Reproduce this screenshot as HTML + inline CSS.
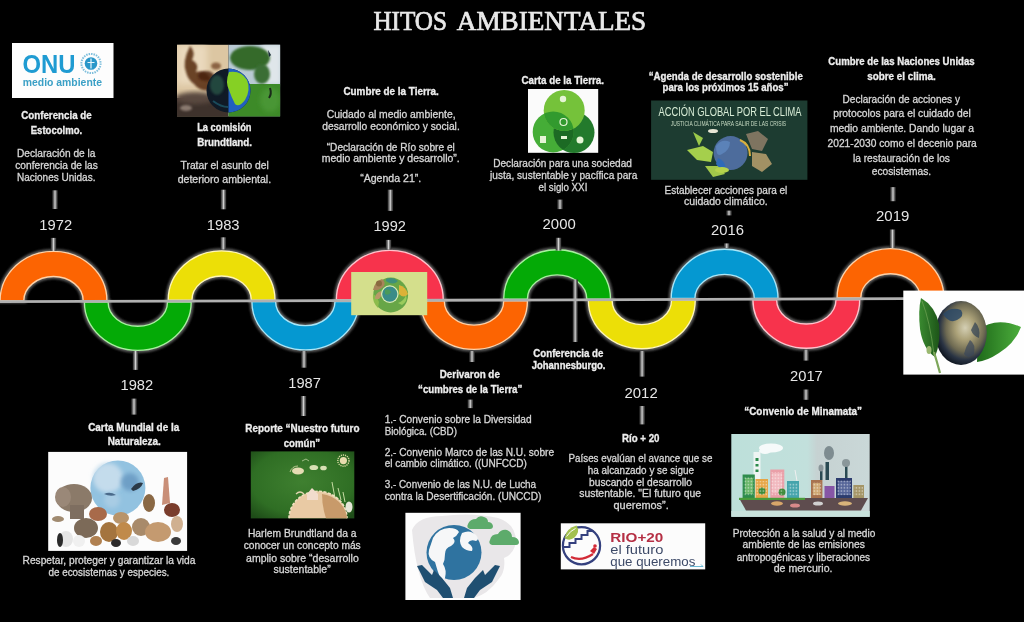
<!DOCTYPE html><html><head><meta charset="utf-8"><title>Hitos ambientales</title>
<style>html,body{margin:0;padding:0;background:#000;}body{width:1024px;height:622px;overflow:hidden;}svg{display:block;font-family:"Liberation Sans",sans-serif;filter:blur(0.5px);}</style></head><body>
<svg width="1024" height="622" viewBox="0 0 1024 622">
<defs><linearGradient id="stem" x1="0" x2="1" y1="0" y2="0"><stop offset="0" stop-color="#222"/><stop offset="0.3" stop-color="#777"/><stop offset="0.5" stop-color="#d2d2d2"/><stop offset="0.7" stop-color="#777"/><stop offset="1" stop-color="#222"/></linearGradient><filter id="glow" x="-20%" y="-20%" width="140%" height="140%"><feGaussianBlur stdDeviation="1.3"/></filter><filter id="b1" x="-20%" y="-20%" width="140%" height="140%"><feGaussianBlur stdDeviation="1"/></filter><filter id="b2" x="-20%" y="-20%" width="140%" height="140%"><feGaussianBlur stdDeviation="2"/></filter><filter id="b3" x="-30%" y="-30%" width="160%" height="160%"><feGaussianBlur stdDeviation="3"/></filter></defs>
<rect width="1024" height="622" fill="#000"/>
<g font-family="Liberation Serif" font-size="26.5" fill="#e9e9e9" stroke="#e9e9e9" stroke-width="0.7"><text x="373.4" y="29.6" textLength="73.6" lengthAdjust="spacingAndGlyphs">HITOS</text><text x="456.8" y="29.6" textLength="189.4" lengthAdjust="spacingAndGlyphs">AMBIENTALES</text></g>
<path d="M0.10,300.72 A53.4,49.3 0 0 1 106.90,300.72 L83.20,300.72 A29.7,24.2 0 0 0 23.80,300.72 Z" fill="none" stroke="#5a5a5a" stroke-width="5" filter="url(#glow)"/>
<path d="M84.40,302.05 A53.4,48.4 0 0 0 191.20,302.05 L167.50,302.05 A29.7,24.2 0 0 1 108.10,302.05 Z" fill="none" stroke="#5a5a5a" stroke-width="5" filter="url(#glow)"/>
<path d="M168.20,300.17 A53.4,49.3 0 0 1 275.00,300.17 L251.30,300.17 A29.7,24.2 0 0 0 191.90,300.17 Z" fill="none" stroke="#5a5a5a" stroke-width="5" filter="url(#glow)"/>
<path d="M251.90,301.49 A53.4,48.4 0 0 0 358.70,301.49 L335.00,301.49 A29.7,24.2 0 0 1 275.60,301.49 Z" fill="none" stroke="#5a5a5a" stroke-width="5" filter="url(#glow)"/>
<path d="M336.40,299.61 A53.4,49.3 0 0 1 443.20,299.61 L419.50,299.61 A29.7,24.2 0 0 0 360.10,299.61 Z" fill="none" stroke="#5a5a5a" stroke-width="5" filter="url(#glow)"/>
<path d="M420.60,300.94 A53.4,48.4 0 0 0 527.40,300.94 L503.70,300.94 A29.7,24.2 0 0 1 444.30,300.94 Z" fill="none" stroke="#5a5a5a" stroke-width="5" filter="url(#glow)"/>
<path d="M503.70,299.06 A53.4,49.3 0 0 1 610.50,299.06 L586.80,299.06 A29.7,24.2 0 0 0 527.40,299.06 Z" fill="none" stroke="#5a5a5a" stroke-width="5" filter="url(#glow)"/>
<path d="M588.40,300.38 A53.4,48.4 0 0 0 695.20,300.38 L671.50,300.38 A29.7,24.2 0 0 1 612.10,300.38 Z" fill="none" stroke="#5a5a5a" stroke-width="5" filter="url(#glow)"/>
<path d="M671.20,298.51 A53.4,49.3 0 0 1 778.00,298.51 L754.30,298.51 A29.7,24.2 0 0 0 694.90,298.51 Z" fill="none" stroke="#5a5a5a" stroke-width="5" filter="url(#glow)"/>
<path d="M752.90,299.84 A53.4,48.4 0 0 0 859.70,299.84 L836.00,299.84 A29.7,24.2 0 0 1 776.60,299.84 Z" fill="none" stroke="#5a5a5a" stroke-width="5" filter="url(#glow)"/>
<path d="M837.10,297.96 A53.4,49.3 0 0 1 943.90,297.96 L920.20,297.96 A29.7,24.2 0 0 0 860.80,297.96 Z" fill="none" stroke="#5a5a5a" stroke-width="5" filter="url(#glow)"/>
<path d="M0.10,300.72 A53.4,49.3 0 0 1 106.90,300.72 L83.20,300.72 A29.7,24.2 0 0 0 23.80,300.72 Z" fill="#fc6402" stroke="#ffd2a8" stroke-width="1.35"/>
<path d="M84.40,302.05 A53.4,48.4 0 0 0 191.20,302.05 L167.50,302.05 A29.7,24.2 0 0 1 108.10,302.05 Z" fill="#04aa06" stroke="#a8f0a0" stroke-width="1.35"/>
<path d="M168.20,300.17 A53.4,49.3 0 0 1 275.00,300.17 L251.30,300.17 A29.7,24.2 0 0 0 191.90,300.17 Z" fill="#ecdf07" stroke="#fff6b8" stroke-width="1.35"/>
<path d="M251.90,301.49 A53.4,48.4 0 0 0 358.70,301.49 L335.00,301.49 A29.7,24.2 0 0 1 275.60,301.49 Z" fill="#0598d1" stroke="#a8e6f8" stroke-width="1.35"/>
<path d="M336.40,299.61 A53.4,49.3 0 0 1 443.20,299.61 L419.50,299.61 A29.7,24.2 0 0 0 360.10,299.61 Z" fill="#f7334c" stroke="#ffc2cc" stroke-width="1.35"/>
<path d="M420.60,300.94 A53.4,48.4 0 0 0 527.40,300.94 L503.70,300.94 A29.7,24.2 0 0 1 444.30,300.94 Z" fill="#fc6402" stroke="#ffd2a8" stroke-width="1.35"/>
<path d="M503.70,299.06 A53.4,49.3 0 0 1 610.50,299.06 L586.80,299.06 A29.7,24.2 0 0 0 527.40,299.06 Z" fill="#04aa06" stroke="#a8f0a0" stroke-width="1.35"/>
<path d="M588.40,300.38 A53.4,48.4 0 0 0 695.20,300.38 L671.50,300.38 A29.7,24.2 0 0 1 612.10,300.38 Z" fill="#ecdf07" stroke="#fff6b8" stroke-width="1.35"/>
<path d="M671.20,298.51 A53.4,49.3 0 0 1 778.00,298.51 L754.30,298.51 A29.7,24.2 0 0 0 694.90,298.51 Z" fill="#0598d1" stroke="#a8e6f8" stroke-width="1.35"/>
<path d="M752.90,299.84 A53.4,48.4 0 0 0 859.70,299.84 L836.00,299.84 A29.7,24.2 0 0 1 776.60,299.84 Z" fill="#f7334c" stroke="#ffc2cc" stroke-width="1.35"/>
<path d="M837.10,297.96 A53.4,49.3 0 0 1 943.90,297.96 L920.20,297.96 A29.7,24.2 0 0 0 860.80,297.96 Z" fill="#fc6402" stroke="#ffd2a8" stroke-width="1.35"/>
<rect x="52.2" y="190.3" width="5.6" height="18.7" fill="url(#stem)"/>
<rect x="50.7" y="237.9" width="5.6" height="13.1" fill="url(#stem)"/>
<rect x="220.7" y="189.7" width="5.6" height="19.6" fill="url(#stem)"/>
<rect x="220.5" y="237.3" width="5.6" height="12.2" fill="url(#stem)"/>
<rect x="387.5" y="189.7" width="5.6" height="21.2" fill="url(#stem)"/>
<rect x="385.7" y="239.9" width="5.6" height="9.6" fill="url(#stem)"/>
<rect x="557.2" y="199.6" width="5.6" height="9.5" fill="url(#stem)"/>
<rect x="555.7" y="237.8" width="5.6" height="12.7" fill="url(#stem)"/>
<rect x="726.2" y="210.6" width="5.6" height="4.8" fill="url(#stem)"/>
<rect x="723.9" y="243.4" width="5.6" height="4.6" fill="url(#stem)"/>
<rect x="890.2" y="187.1" width="5.6" height="14.1" fill="url(#stem)"/>
<rect x="889.7" y="229.5" width="5.6" height="18.5" fill="url(#stem)"/>
<rect x="132.7" y="351.0" width="5.6" height="18.9" fill="url(#stem)"/>
<rect x="131.2" y="398.6" width="5.6" height="16.0" fill="url(#stem)"/>
<rect x="301.2" y="351.0" width="5.6" height="16.7" fill="url(#stem)"/>
<rect x="300.7" y="396.0" width="5.6" height="20.0" fill="url(#stem)"/>
<rect x="469.2" y="351.0" width="5.6" height="11.0" fill="url(#stem)"/>
<rect x="467.5" y="399.6" width="5.6" height="8.5" fill="url(#stem)"/>
<rect x="639.3" y="351.0" width="5.6" height="25.6" fill="url(#stem)"/>
<rect x="639.3" y="406.0" width="5.6" height="18.4" fill="url(#stem)"/>
<rect x="803.2" y="349.7" width="5.6" height="10.9" fill="url(#stem)"/>
<rect x="803.2" y="389.5" width="5.6" height="10.3" fill="url(#stem)"/>
<rect x="572.6" y="279.5" width="5.2" height="62.5" fill="url(#stem)"/>
<polygon points="0,300.30 904,297.32 904,300.12 0,303.10" fill="#b0b0b0"/>
<text x="21.15" y="119.30" font-size="10.0" font-weight="bold" fill="#ededed" stroke="#ededed" stroke-width="0.3" textLength="70.60" lengthAdjust="spacingAndGlyphs">Conferencia de</text>
<text x="30.75" y="134.00" font-size="10.0" font-weight="bold" fill="#ededed" stroke="#ededed" stroke-width="0.3" textLength="51.40" lengthAdjust="spacingAndGlyphs">Estocolmo.</text>
<text x="17.05" y="156.60" font-size="10.1" font-weight="normal" fill="#d6d6d6" stroke="#d6d6d6" stroke-width="0.3" textLength="78.40" lengthAdjust="spacingAndGlyphs">Declaración de la</text>
<text x="15.25" y="168.50" font-size="10.1" font-weight="normal" fill="#d6d6d6" stroke="#d6d6d6" stroke-width="0.3" textLength="82.60" lengthAdjust="spacingAndGlyphs">conferencia de las</text>
<text x="17.05" y="180.80" font-size="10.1" font-weight="normal" fill="#d6d6d6" stroke="#d6d6d6" stroke-width="0.3" textLength="78.40" lengthAdjust="spacingAndGlyphs">Naciones Unidas.</text>
<text x="197.15" y="131.30" font-size="10.0" font-weight="bold" fill="#ededed" stroke="#ededed" stroke-width="0.3" textLength="54.40" lengthAdjust="spacingAndGlyphs">La comisión</text>
<text x="197.15" y="145.80" font-size="10.0" font-weight="bold" fill="#ededed" stroke="#ededed" stroke-width="0.3" textLength="54.90" lengthAdjust="spacingAndGlyphs">Brundtland.</text>
<text x="180.55" y="169.00" font-size="10.1" font-weight="normal" fill="#d6d6d6" stroke="#d6d6d6" stroke-width="0.3" textLength="88.30" lengthAdjust="spacingAndGlyphs">Tratar el asunto del</text>
<text x="177.65" y="183.40" font-size="10.1" font-weight="normal" fill="#d6d6d6" stroke="#d6d6d6" stroke-width="0.3" textLength="93.50" lengthAdjust="spacingAndGlyphs">deterioro ambiental.</text>
<text x="343.45" y="95.40" font-size="10.0" font-weight="bold" fill="#ededed" stroke="#ededed" stroke-width="0.3" textLength="95.40" lengthAdjust="spacingAndGlyphs">Cumbre de la Tierra.</text>
<text x="326.75" y="118.00" font-size="10.1" font-weight="normal" fill="#d6d6d6" stroke="#d6d6d6" stroke-width="0.3" textLength="128.80" lengthAdjust="spacingAndGlyphs">Cuidado al medio ambiente,</text>
<text x="322.25" y="129.70" font-size="10.1" font-weight="normal" fill="#d6d6d6" stroke="#d6d6d6" stroke-width="0.3" textLength="137.50" lengthAdjust="spacingAndGlyphs">desarrollo económico y social.</text>
<text x="326.75" y="150.60" font-size="10.1" font-weight="normal" fill="#d6d6d6" stroke="#d6d6d6" stroke-width="0.3" textLength="128.00" lengthAdjust="spacingAndGlyphs">“Declaración de Río sobre el</text>
<text x="321.75" y="162.30" font-size="10.1" font-weight="normal" fill="#d6d6d6" stroke="#d6d6d6" stroke-width="0.3" textLength="138.00" lengthAdjust="spacingAndGlyphs">medio ambiente y desarrollo”.</text>
<text x="360.15" y="182.30" font-size="10.1" font-weight="normal" fill="#d6d6d6" stroke="#d6d6d6" stroke-width="0.3" textLength="61.10" lengthAdjust="spacingAndGlyphs">“Agenda 21”.</text>
<text x="521.55" y="83.80" font-size="10.0" font-weight="bold" fill="#ededed" stroke="#ededed" stroke-width="0.3" textLength="82.40" lengthAdjust="spacingAndGlyphs">Carta de la Tierra.</text>
<text x="493.25" y="166.80" font-size="10.1" font-weight="normal" fill="#d6d6d6" stroke="#d6d6d6" stroke-width="0.3" textLength="138.60" lengthAdjust="spacingAndGlyphs">Declaración para una sociedad</text>
<text x="490.05" y="179.20" font-size="10.1" font-weight="normal" fill="#d6d6d6" stroke="#d6d6d6" stroke-width="0.3" textLength="147.30" lengthAdjust="spacingAndGlyphs">justa, sustentable y pacífica para</text>
<text x="538.55" y="191.10" font-size="10.1" font-weight="normal" fill="#d6d6d6" stroke="#d6d6d6" stroke-width="0.3" textLength="48.80" lengthAdjust="spacingAndGlyphs">el siglo XXI</text>
<text x="648.75" y="79.50" font-size="10.0" font-weight="bold" fill="#ededed" stroke="#ededed" stroke-width="0.3" textLength="154.00" lengthAdjust="spacingAndGlyphs">“Agenda de desarrollo sostenible</text>
<text x="662.55" y="91.40" font-size="10.0" font-weight="bold" fill="#ededed" stroke="#ededed" stroke-width="0.3" textLength="125.90" lengthAdjust="spacingAndGlyphs">para los próximos 15 años”</text>
<text x="664.55" y="193.80" font-size="10.1" font-weight="normal" fill="#d6d6d6" stroke="#d6d6d6" stroke-width="0.3" textLength="122.80" lengthAdjust="spacingAndGlyphs">Establecer acciones para el</text>
<text x="684.05" y="205.00" font-size="10.1" font-weight="normal" fill="#d6d6d6" stroke="#d6d6d6" stroke-width="0.3" textLength="83.70" lengthAdjust="spacingAndGlyphs">cuidado climático.</text>
<text x="828.35" y="65.00" font-size="10.0" font-weight="bold" fill="#ededed" stroke="#ededed" stroke-width="0.3" textLength="146.30" lengthAdjust="spacingAndGlyphs">Cumbre de las Naciones Unidas</text>
<text x="867.15" y="80.30" font-size="10.0" font-weight="bold" fill="#ededed" stroke="#ededed" stroke-width="0.3" textLength="68.60" lengthAdjust="spacingAndGlyphs">sobre el clima.</text>
<text x="842.55" y="102.60" font-size="10.1" font-weight="normal" fill="#d6d6d6" stroke="#d6d6d6" stroke-width="0.3" textLength="117.40" lengthAdjust="spacingAndGlyphs">Declaración de acciones y</text>
<text x="833.15" y="117.30" font-size="10.1" font-weight="normal" fill="#d6d6d6" stroke="#d6d6d6" stroke-width="0.3" textLength="137.70" lengthAdjust="spacingAndGlyphs">protocolos para el cuidado del</text>
<text x="829.95" y="131.90" font-size="10.1" font-weight="normal" fill="#d6d6d6" stroke="#d6d6d6" stroke-width="0.3" textLength="144.00" lengthAdjust="spacingAndGlyphs">medio ambiente. Dando lugar a</text>
<text x="827.55" y="147.10" font-size="10.1" font-weight="normal" fill="#d6d6d6" stroke="#d6d6d6" stroke-width="0.3" textLength="149.20" lengthAdjust="spacingAndGlyphs">2021-2030 como el decenio para</text>
<text x="852.95" y="161.80" font-size="10.1" font-weight="normal" fill="#d6d6d6" stroke="#d6d6d6" stroke-width="0.3" textLength="97.00" lengthAdjust="spacingAndGlyphs">la restauración de los</text>
<text x="871.75" y="175.30" font-size="10.1" font-weight="normal" fill="#d6d6d6" stroke="#d6d6d6" stroke-width="0.3" textLength="59.40" lengthAdjust="spacingAndGlyphs">ecosistemas.</text>
<text x="88.15" y="430.90" font-size="10.0" font-weight="bold" fill="#ededed" stroke="#ededed" stroke-width="0.3" textLength="91.10" lengthAdjust="spacingAndGlyphs">Carta Mundial de la</text>
<text x="107.65" y="445.40" font-size="10.0" font-weight="bold" fill="#ededed" stroke="#ededed" stroke-width="0.3" textLength="53.20" lengthAdjust="spacingAndGlyphs">Naturaleza.</text>
<text x="22.55" y="563.70" font-size="10.1" font-weight="normal" fill="#d6d6d6" stroke="#d6d6d6" stroke-width="0.3" textLength="172.90" lengthAdjust="spacingAndGlyphs">Respetar, proteger y garantizar la vida</text>
<text x="48.45" y="575.90" font-size="10.1" font-weight="normal" fill="#d6d6d6" stroke="#d6d6d6" stroke-width="0.3" textLength="120.90" lengthAdjust="spacingAndGlyphs">de ecosistemas y especies.</text>
<text x="245.35" y="431.70" font-size="10.0" font-weight="bold" fill="#ededed" stroke="#ededed" stroke-width="0.3" textLength="114.10" lengthAdjust="spacingAndGlyphs">Reporte “Nuestro futuro</text>
<text x="283.75" y="447.10" font-size="10.0" font-weight="bold" fill="#ededed" stroke="#ededed" stroke-width="0.3" textLength="36.40" lengthAdjust="spacingAndGlyphs">común”</text>
<text x="247.95" y="537.20" font-size="10.1" font-weight="normal" fill="#d6d6d6" stroke="#d6d6d6" stroke-width="0.3" textLength="108.60" lengthAdjust="spacingAndGlyphs">Harlem Brundtland da a</text>
<text x="243.65" y="549.30" font-size="10.1" font-weight="normal" fill="#d6d6d6" stroke="#d6d6d6" stroke-width="0.3" textLength="117.10" lengthAdjust="spacingAndGlyphs">conocer un concepto más</text>
<text x="246.05" y="561.50" font-size="10.1" font-weight="normal" fill="#d6d6d6" stroke="#d6d6d6" stroke-width="0.3" textLength="112.70" lengthAdjust="spacingAndGlyphs">amplio sobre “desarrollo</text>
<text x="273.55" y="573.20" font-size="10.1" font-weight="normal" fill="#d6d6d6" stroke="#d6d6d6" stroke-width="0.3" textLength="57.10" lengthAdjust="spacingAndGlyphs">sustentable”</text>
<text x="439.75" y="378.20" font-size="10.0" font-weight="bold" fill="#ededed" stroke="#ededed" stroke-width="0.3" textLength="60.10" lengthAdjust="spacingAndGlyphs">Derivaron de</text>
<text x="418.05" y="392.60" font-size="10.0" font-weight="bold" fill="#ededed" stroke="#ededed" stroke-width="0.3" textLength="104.20" lengthAdjust="spacingAndGlyphs">“cumbres de la Tierra”</text>
<text x="384.65" y="423.40" font-size="10.1" font-weight="normal" fill="#d6d6d6" stroke="#d6d6d6" stroke-width="0.3" textLength="146.90" lengthAdjust="spacingAndGlyphs">1.- Convenio sobre la Diversidad</text>
<text x="384.65" y="434.60" font-size="10.1" font-weight="normal" fill="#d6d6d6" stroke="#d6d6d6" stroke-width="0.3" textLength="72.30" lengthAdjust="spacingAndGlyphs">Biológica. (CBD)</text>
<text x="384.65" y="455.60" font-size="10.1" font-weight="normal" fill="#d6d6d6" stroke="#d6d6d6" stroke-width="0.3" textLength="169.50" lengthAdjust="spacingAndGlyphs">2.- Convenio Marco de las N.U. sobre</text>
<text x="384.65" y="466.80" font-size="10.1" font-weight="normal" fill="#d6d6d6" stroke="#d6d6d6" stroke-width="0.3" textLength="142.20" lengthAdjust="spacingAndGlyphs">el cambio climático. ((UNFCCD)</text>
<text x="384.65" y="488.20" font-size="10.1" font-weight="normal" fill="#d6d6d6" stroke="#d6d6d6" stroke-width="0.3" textLength="151.50" lengthAdjust="spacingAndGlyphs">3.- Convenio de las N.U. de Lucha</text>
<text x="384.65" y="499.90" font-size="10.1" font-weight="normal" fill="#d6d6d6" stroke="#d6d6d6" stroke-width="0.3" textLength="156.70" lengthAdjust="spacingAndGlyphs">contra la Desertificación. (UNCCD)</text>
<text x="533.25" y="356.60" font-size="10.0" font-weight="bold" fill="#ededed" stroke="#ededed" stroke-width="0.3" textLength="70.20" lengthAdjust="spacingAndGlyphs">Conferencia de</text>
<text x="531.75" y="368.60" font-size="10.0" font-weight="bold" fill="#ededed" stroke="#ededed" stroke-width="0.3" textLength="73.70" lengthAdjust="spacingAndGlyphs">Johannesburgo.</text>
<text x="621.95" y="441.80" font-size="10.0" font-weight="bold" fill="#ededed" stroke="#ededed" stroke-width="0.3" textLength="37.50" lengthAdjust="spacingAndGlyphs">Río + 20</text>
<text x="568.55" y="461.80" font-size="10.1" font-weight="normal" fill="#d6d6d6" stroke="#d6d6d6" stroke-width="0.3" textLength="143.80" lengthAdjust="spacingAndGlyphs">Países evalúan el avance que se</text>
<text x="587.65" y="473.80" font-size="10.1" font-weight="normal" fill="#d6d6d6" stroke="#d6d6d6" stroke-width="0.3" textLength="106.40" lengthAdjust="spacingAndGlyphs">ha alcanzado y se sigue</text>
<text x="589.05" y="485.60" font-size="10.1" font-weight="normal" fill="#d6d6d6" stroke="#d6d6d6" stroke-width="0.3" textLength="103.00" lengthAdjust="spacingAndGlyphs">buscando el desarrollo</text>
<text x="579.25" y="497.40" font-size="10.1" font-weight="normal" fill="#d6d6d6" stroke="#d6d6d6" stroke-width="0.3" textLength="121.80" lengthAdjust="spacingAndGlyphs">sustentable. "El futuro que</text>
<text x="613.55" y="509.00" font-size="10.1" font-weight="normal" fill="#d6d6d6" stroke="#d6d6d6" stroke-width="0.3" textLength="55.20" lengthAdjust="spacingAndGlyphs">queremos”.</text>
<text x="744.25" y="414.50" font-size="10.0" font-weight="bold" fill="#ededed" stroke="#ededed" stroke-width="0.3" textLength="117.80" lengthAdjust="spacingAndGlyphs">“Convenio de Minamata”</text>
<text x="732.65" y="537.40" font-size="10.1" font-weight="normal" fill="#d6d6d6" stroke="#d6d6d6" stroke-width="0.3" textLength="142.70" lengthAdjust="spacingAndGlyphs">Protección a la salud y al medio</text>
<text x="742.55" y="548.10" font-size="10.1" font-weight="normal" fill="#d6d6d6" stroke="#d6d6d6" stroke-width="0.3" textLength="122.40" lengthAdjust="spacingAndGlyphs">ambiente de las emisiones</text>
<text x="736.75" y="560.60" font-size="10.1" font-weight="normal" fill="#d6d6d6" stroke="#d6d6d6" stroke-width="0.3" textLength="133.40" lengthAdjust="spacingAndGlyphs">antropogénicas y liberaciones</text>
<text x="773.75" y="572.20" font-size="10.1" font-weight="normal" fill="#d6d6d6" stroke="#d6d6d6" stroke-width="0.3" textLength="58.70" lengthAdjust="spacingAndGlyphs">de mercurio.</text>
<text x="39.30" y="229.50" font-size="14.6" fill="#e6e6e6" textLength="32.80" lengthAdjust="spacingAndGlyphs">1972</text>
<text x="206.70" y="229.50" font-size="14.6" fill="#e6e6e6" textLength="32.90" lengthAdjust="spacingAndGlyphs">1983</text>
<text x="373.50" y="230.90" font-size="14.6" fill="#e6e6e6" textLength="32.50" lengthAdjust="spacingAndGlyphs">1992</text>
<text x="542.60" y="229.40" font-size="14.6" fill="#e6e6e6" textLength="33.10" lengthAdjust="spacingAndGlyphs">2000</text>
<text x="711.10" y="234.70" font-size="14.6" fill="#e6e6e6" textLength="33.00" lengthAdjust="spacingAndGlyphs">2016</text>
<text x="876.00" y="221.20" font-size="14.6" fill="#e6e6e6" textLength="33.30" lengthAdjust="spacingAndGlyphs">2019</text>
<text x="120.50" y="390.40" font-size="14.6" fill="#e6e6e6" textLength="32.70" lengthAdjust="spacingAndGlyphs">1982</text>
<text x="288.30" y="387.90" font-size="14.6" fill="#e6e6e6" textLength="32.60" lengthAdjust="spacingAndGlyphs">1987</text>
<text x="624.50" y="397.60" font-size="14.6" fill="#e6e6e6" textLength="33.20" lengthAdjust="spacingAndGlyphs">2012</text>
<text x="790.10" y="380.50" font-size="14.6" fill="#e6e6e6" textLength="32.70" lengthAdjust="spacingAndGlyphs">2017</text>
<!-- ONU box -->
<g>
<rect x="12" y="43" width="101.5" height="55" fill="#fdfdfd"/>
<text x="22.5" y="73.1" font-weight="bold" font-size="26" fill="#1f9bd2" textLength="53" lengthAdjust="spacingAndGlyphs">ONU</text>
<circle cx="91" cy="63.5" r="9.6" fill="none" stroke="#7fbfdc" stroke-width="2" stroke-dasharray="1.5 1"/>
<circle cx="91" cy="63.5" r="6.3" fill="#2a97c9"/>
<path d="M91 58.5 V68.5 M87.5 62.5 H94.5" stroke="#e8f6fc" stroke-width="1.2"/>
<text x="22.8" y="86" font-weight="bold" font-size="10.6" fill="#3ba0c6" textLength="79.2" lengthAdjust="spacingAndGlyphs">medio ambiente</text>
</g>

<!-- Brundtland image -->
<g>
<clipPath id="cBr"><rect x="177" y="44.6" width="103.2" height="72"/></clipPath>
<g clip-path="url(#cBr)">
<rect x="177" y="44.6" width="51.5" height="72" fill="#dcc6a2"/>
<rect x="177" y="44.6" width="30" height="40" fill="#ead9bd" filter="url(#b3)"/>
<path d="M190 46 q6 6 2 14 q8 4 4 12 q10 -2 14 6 q6 6 0 12 q-10 2 -16 -6 q-6 -4 -8 -12 q-4 -10 4 -26z" fill="#5c3014" filter="url(#b1)" opacity="0.9"/>
<ellipse cx="206" cy="76" rx="8" ry="5" fill="#4a2410" filter="url(#b1)" opacity="0.85"/>
<ellipse cx="216" cy="66" rx="5" ry="3.5" fill="#6a3a1a" filter="url(#b1)" opacity="0.7"/>
<rect x="177" y="98" width="51.5" height="19" fill="#3e322c"/>
<ellipse cx="195" cy="98" rx="20" ry="6" fill="#5a4a40" filter="url(#b2)"/>
<ellipse cx="186" cy="108" rx="6" ry="3" fill="#8a7a70" filter="url(#b1)"/>
<rect x="228.5" y="44.6" width="52" height="72" fill="#b9cad4"/>
<rect x="262" y="44.6" width="19" height="40" fill="#dfe6ea" filter="url(#b2)"/>
<rect x="228.5" y="84" width="52" height="33" fill="#3d8a28"/>
<ellipse cx="250" cy="58" rx="20" ry="12" fill="#356a2c" filter="url(#b1)"/>
<ellipse cx="262" cy="74" rx="8" ry="10" fill="#3b6e34" filter="url(#b1)"/>
<ellipse cx="270" cy="100" rx="10" ry="12" fill="#4a9634" filter="url(#b2)"/>
<path d="M268 50 l3 5 l-2 2z" fill="#1a2a3a"/>
<path d="M270 88 q2 6 -1 10" stroke="#1a2a1a" stroke-width="2" fill="none"/>
<circle cx="228.5" cy="90.5" r="22" fill="#101a26"/>
<path d="M228.5 68.5 A22 22 0 0 1 228.5 112.5 Z" fill="#2160bf"/>
<path d="M229 72 q12 -2 18 8 q4 10 -2 20 q-6 8 -10 4 q-4 -8 -6 -14 q-4 -8 0 -18z" fill="#86d024"/>
<ellipse cx="217" cy="85" rx="7" ry="10" fill="#2c5a48" opacity="0.7" filter="url(#b1)"/>
<path d="M213 101 q8 6 15 6" stroke="#1a4a5a" stroke-width="2" fill="none"/>
</g>
</g>

<!-- 1992 overlay image -->
<g>
<rect x="351.2" y="272" width="76" height="43.2" fill="#d4df8c"/>
<circle cx="390.7" cy="295" r="17.4" fill="#67a647"/>
<path d="M378 308 q-6 -6 -5 -14 q4 2 6 8z" fill="#8cbc4c"/>
<path d="M373 290 q2 -9 9 -11 q4 3 2 7 q-4 5 -11 4z" fill="#a8845a"/>
<path d="M375 299 q0 -6 6 -8 q2 4 -2 8z" fill="#b89868"/>
<circle cx="379" cy="283.5" r="3" fill="#8a6a40"/>
<path d="M399 285 q7 2 9 9 q-4 5 -9 0z" fill="#dcb238"/>
<path d="M386 279 q7 -3 12 2 q-5 5 -12 0z" fill="#3e8f7a"/>
<path d="M398 303 q6 -2 8 -8 q2 6 -4 10z" fill="#9acb5c"/>
<circle cx="389.8" cy="294.1" r="8.8" fill="#dcecb8"/>
<circle cx="389.8" cy="294.1" r="7.6" fill="#3a8c88"/>
<path d="M385 290 q4 -2 6 2 q-2 4 -6 2z" fill="#4a9a5a"/>
</g>

<!-- Venn image -->
<g>
<rect x="528" y="89" width="70.2" height="63.8" fill="#fbfbfb"/>
<clipPath id="cL"><circle cx="553.2" cy="131.9" r="20.5"/></clipPath>
<circle cx="574" cy="132.5" r="20.5" fill="#237a2c"/>
<circle cx="553.2" cy="131.9" r="20.5" fill="#45ad37"/>
<g clip-path="url(#cL)"><circle cx="574" cy="132.5" r="20.5" fill="#1c6a24"/></g>
<circle cx="564.2" cy="110.4" r="20.5" fill="#75c23a"/>
<g clip-path="url(#cL)"><circle cx="564.2" cy="110.4" r="20.5" fill="#329a2e"/></g>
<circle cx="563" cy="99" r="3.2" fill="#e6f5d6"/>
<circle cx="563.5" cy="122" r="3.5" fill="none" stroke="#e6f5d6" stroke-width="1.2"/>
<rect x="540" y="136" width="6" height="7" fill="#e6f5d6"/>
<rect x="561" y="136" width="6" height="3" fill="#e6f5d6"/>
<circle cx="580" cy="140" r="3.5" fill="#e6f5d6"/>
</g>

<!-- Accion global -->
<g>
<rect x="651.1" y="100.5" width="156.3" height="79.3" fill="#1d3c31"/>
<text x="658.5" y="116.4" font-size="13" fill="#d8ecd6" textLength="143" lengthAdjust="spacingAndGlyphs">ACCIÓN GLOBAL POR EL CLIMA</text>
<text x="670.8" y="126.4" font-size="7" fill="#c8dcc4" textLength="115.3" lengthAdjust="spacingAndGlyphs">JUSTICIA CLIMÁTICA PARA SALIR DE LAS CRISIS</text>
<path d="M693 132 l10 6 l-4 8 z" fill="#9bc94a"/>
<path d="M687 150 l16 -4 l10 6 l-2 10 l-14 -2 z" fill="#a5cf4c"/>
<path d="M705 166 l14 0 l6 8 l-12 3 z" fill="#a2c84a"/>
<path d="M746 134 l12 -3 l10 8 l-6 12 l-10 -2 z" fill="#8a7a66" opacity="0.9"/>
<path d="M752 152 l14 2 l6 10 l-10 8 l-10 -6 z" fill="#b09a6a" opacity="0.9"/>
<circle cx="730.6" cy="153.1" r="17" fill="#4d6c9c"/>
<path d="M716 146 q6 -8 14 -4 q0 8 -8 12 q-6 4 -6 -8z" fill="#5b82b8"/>
<path d="M718 158 q6 2 8 10 q-6 2 -10 -4z" fill="#2e6ab8"/>
<ellipse cx="722" cy="170" rx="7" ry="3" fill="#b6d34c"/>
<ellipse cx="713" cy="131" rx="5" ry="2" fill="#e8e6d4"/>
<path d="M740 140 q10 4 10 16" stroke="#d8b040" stroke-width="2" fill="none"/>
</g>

<!-- Globe with leaves -->
<g>
<defs>
<radialGradient id="gEarth" cx="0.58" cy="0.42" r="0.62">
<stop offset="0" stop-color="#d4cfb4"/><stop offset="0.3" stop-color="#aba178"/><stop offset="0.6" stop-color="#6e6a52"/><stop offset="0.8" stop-color="#2a3444"/><stop offset="1" stop-color="#0c121c"/>
</radialGradient>
<linearGradient id="gLeafR" x1="0" x2="1" y1="0" y2="0"><stop offset="0" stop-color="#1f6a1a"/><stop offset="1" stop-color="#4cae3c"/></linearGradient>
<linearGradient id="gLeafL" x1="0" x2="1" y1="0" y2="0"><stop offset="0" stop-color="#3a8a30"/><stop offset="1" stop-color="#1d5418"/></linearGradient>
</defs>
<rect x="903.3" y="290.6" width="120.7" height="84" fill="#fefefe"/>
<path d="M978 330 q18 -14 43 -3 q-6 16 -22 26 q-12 8 -22 9 z" fill="url(#gLeafR)"/>
<ellipse cx="961" cy="333" rx="25.8" ry="32" fill="url(#gEarth)"/>
<path d="M943 314 q8 -8 18 -4 q4 6 -4 10 q-8 4 -14 -6z" fill="#2a4866" opacity="0.85"/>
<path d="M975 322 q6 6 4 16 q-6 -2 -8 -8z" fill="#2e3e52" opacity="0.7"/>
<path d="M970 340 q6 4 4 14 q-6 6 -10 0 q2 -8 6 -14z" fill="#39465a" opacity="0.7"/>
<path d="M921 298 q14 8 18 26 q2 18 -4 33 q-12 -8 -15 -28 q-2 -18 1 -31z" fill="url(#gLeafL)"/>
<path d="M922 301 q8 20 12 54" stroke="#6aa050" stroke-width="0.8" fill="none"/>
<path d="M934 352 q3 10 6 21" stroke="#7da65a" stroke-width="2.2" fill="none"/>
<ellipse cx="929" cy="350" rx="2.5" ry="4" fill="#9ab870"/>
</g>

<!-- Animals -->
<g>
<clipPath id="cAn"><rect x="48.2" y="451.9" width="138.9" height="99"/></clipPath>
<rect x="48.2" y="451.9" width="138.9" height="99" fill="#fcfcfc"/>
<g clip-path="url(#cAn)">
<circle cx="117.9" cy="488" r="27.5" fill="#92c2e0"/>
<circle cx="108" cy="478" r="15" fill="#c4dcec" filter="url(#b2)"/>
<circle cx="130" cy="482" r="9" fill="#6e9fc6" filter="url(#b2)"/>
<circle cx="112" cy="500" r="8" fill="#a8cce4" filter="url(#b2)"/>
<path d="M131 489 q6 -8 12 -6 q-2 6 -10 8z" fill="#2b3947"/>
<path d="M104 494 q6 -3 12 1 q-6 2 -12 -1z" fill="#4a6a8a"/>
<ellipse cx="74" cy="498" rx="18" ry="14" fill="#8b7a69"/>
<ellipse cx="63" cy="497" rx="8" ry="10" fill="#9a8878"/>
<rect x="70" y="505" width="14" height="14" fill="#7e6e60"/>
<path d="M164 478 l4 -1 l2 26 l-8 2 z" fill="#c98f78"/>
<ellipse cx="172" cy="510" rx="8" ry="7" fill="#7a3d2c"/>
<ellipse cx="149" cy="503" rx="6" ry="9" fill="#8a6844"/>
<ellipse cx="98" cy="514" rx="9" ry="7" fill="#a86a4a"/>
<ellipse cx="121" cy="518" rx="8" ry="6" fill="#b8946a"/>
<ellipse cx="86" cy="528" rx="12" ry="10" fill="#7c6a58"/>
<ellipse cx="109" cy="532" rx="9" ry="10" fill="#a4743e"/>
<ellipse cx="124" cy="531" rx="8" ry="9" fill="#c08a4a"/>
<ellipse cx="141" cy="527" rx="9" ry="9" fill="#a88a6a"/>
<ellipse cx="158" cy="532" rx="13" ry="10" fill="#c49a70"/>
<ellipse cx="177" cy="524" rx="6" ry="8" fill="#d0b090"/>
<ellipse cx="66" cy="539" rx="7" ry="8" fill="#e6e6e6"/>
<ellipse cx="60" cy="540" rx="3" ry="7" fill="#2a2a2a"/>
<ellipse cx="79" cy="541" rx="6" ry="6" fill="#f0f0f0"/>
<ellipse cx="96" cy="541" rx="6" ry="5" fill="#b08050"/>
<ellipse cx="116" cy="543" rx="5" ry="4" fill="#2c2a2a"/>
<ellipse cx="133" cy="541" rx="6" ry="5" fill="#d8d8d8"/>
<ellipse cx="176" cy="541" rx="5" ry="4" fill="#3a3a3a"/>
<ellipse cx="58" cy="519" rx="6" ry="3" fill="#a08a70"/>
</g>
</g>

<!-- Chalkboard -->
<g>
<defs><radialGradient id="gChalk" cx="0.5" cy="0.45" r="0.7"><stop offset="0" stop-color="#3f8030"/><stop offset="0.7" stop-color="#2f6e24"/><stop offset="1" stop-color="#1e4c18"/></radialGradient></defs>
<rect x="250.8" y="451.4" width="103.5" height="67" fill="url(#gChalk)"/>
<circle cx="343.4" cy="460.6" r="3.6" fill="#e8dcae"/>
<circle cx="343.4" cy="460.6" r="5.6" fill="none" stroke="#d6d8a0" stroke-width="1.4" stroke-dasharray="1.2 0.9"/>
<ellipse cx="298" cy="471" rx="6" ry="3.4" fill="#e6dcb4"/>
<path d="M290 472 q2 -6 8 -6" stroke="#d8d8a8" stroke-width="0.8" fill="none"/>
<ellipse cx="313.8" cy="467.5" rx="4.3" ry="2.6" fill="#d8e0b4"/>
<ellipse cx="323.5" cy="468" rx="3.3" ry="2.3" fill="#d8e0b4"/>
<path d="M302 461 l4 -2 l3 2" stroke="#cfe0b0" stroke-width="0.7" fill="none"/>
<path d="M289 518.3 A29 27 0 0 1 347 518.3 Z" fill="#e9caa4"/>
<path d="M289 518.3 A29 27 0 0 1 347 518.3" fill="none" stroke="#f0e0c0" stroke-width="1.6" stroke-dasharray="3 1.5"/>
<path d="M322 494 A29 27 0 0 1 347 518.3 L326 518.3 q-4 -12 -4 -24z" fill="#c89a6a"/>
<path d="M307 494 l5 -6 l6 6 v6 h-11z" fill="#f2dccc"/>
<path d="M332 482 l3 16 M338 488 l3 12 M343 492 l2 10" stroke="#d6e6b0" stroke-width="0.9"/>
<ellipse cx="349" cy="507" rx="3.5" ry="5.5" fill="#e6e6d8"/>
<path d="M296 494 q4 -4 8 0" stroke="#e0d4b0" stroke-width="1.2" fill="none"/>
</g>

<!-- Globe hands -->
<g>
<rect x="405.4" y="512.8" width="115.2" height="87.2" fill="#fdfdfd"/>
<path d="M412 530 q6 -14 30 -14 q30 -4 56 2 q18 6 18 24 q-2 12 -12 16 q2 14 -6 22 q-10 14 -24 18 l-44 0 q-14 -20 -18 -68z" fill="#e9e7e9"/>
<circle cx="454" cy="552.5" r="27.5" fill="#2f73a0"/>
<path d="M433 538 q6 -10 16 -10 q8 0 10 4 q-2 4 -6 6 q4 4 -2 8 q-6 2 -6 8 q0 6 -2 10 q4 6 2 14 q-2 6 -4 2 q-4 -10 -6 -18 q-8 -4 -6 -12 q2 -6 4 -12z" fill="#f6f7f8"/>
<path d="M462 533 q8 -4 14 2 q4 4 0 6 q-6 -2 -8 2 q6 4 4 8 q-6 0 -10 -4 q-4 -6 0 -14z" fill="#f6f7f8"/>
<path d="M468 524 q2 -5 8 -5 q3 -4 8 -2 q4 1 4 5 q4 0 5 4 q0 3 -3 3 h-20 q-4 -1 -2 -5z" fill="#5dab6b"/>
<path d="M490 540 q1 -6 8 -6 q3 -5 9 -4 q5 2 5 7 q6 0 7 5 q0 3 -3 3 h-24 q-4 -1 -2 -5z" fill="#5dab6b"/>
<path d="M417 566 l5 -1 l10 10 l2 -5 l8 8 l8 10 l3 10 l-10 0 l-6 -8 l-12 -8 z" fill="#1f4f71"/>
<path d="M500 566 l-5 -1 l-10 10 l-2 -5 l-8 8 l-8 10 l-3 10 l10 0 l6 -8 l12 -8 z" fill="#1f4f71"/>
</g>

<!-- Rio+20 -->
<g>
<rect x="560.8" y="523.3" width="144.4" height="46.1" fill="#fcfcfc"/>
<circle cx="581.5" cy="545.7" r="18.6" fill="none" stroke="#34407e" stroke-width="2.2"/>
<path d="M564.5 538 q2 -10 12 -12.5 q4 6 -2 12 q-5 4 -10 0.5z" fill="#a2c04e"/>
<path d="M566.5 536.5 q4 -6 9 -8" stroke="#fcfcfc" stroke-width="1" fill="none"/>
<path d="M563.5 547 h6 v-4 h6 v-4 h6 v-4 h6 v-4 h6" fill="none" stroke="#34407e" stroke-width="2"/>
<path d="M571 557 q10 5 22 -3" fill="none" stroke="#d22a36" stroke-width="2.2"/>
<path d="M590 551 l4 -4 l3 2 l-3 5z" fill="#d22a36"/>
<circle cx="595" cy="546" r="1.8" fill="#d22a36"/>
<text x="610.3" y="541.6" font-weight="bold" font-size="13.6" fill="#b52f44" textLength="53" lengthAdjust="spacingAndGlyphs">RIO+20</text>
<text x="610.3" y="554" font-size="12.8" fill="#3d4a68" textLength="53" lengthAdjust="spacingAndGlyphs">el futuro</text>
<text x="610.3" y="565.5" font-size="12.8" fill="#3d4a68" textLength="85" lengthAdjust="spacingAndGlyphs">que queremos</text>
<path d="M690 566.5 h13 l-2 -2" stroke="#5bb2d0" stroke-width="0.9" fill="none"/>
</g>

<!-- Minamata city -->
<g>
<defs><linearGradient id="gCity" x1="0" x2="1" y1="0" y2="0"><stop offset="0" stop-color="#bde0da"/><stop offset="0.55" stop-color="#c2e0dc"/><stop offset="0.62" stop-color="#c6d2d2"/><stop offset="1" stop-color="#cad8d8"/></linearGradient></defs>
<rect x="731.3" y="434" width="138.4" height="82.8" fill="url(#gCity)"/>
<ellipse cx="771" cy="448" rx="12" ry="4.5" fill="#f6fafa"/>
<ellipse cx="765" cy="451" rx="6" ry="3" fill="#f6fafa"/>
<rect x="753.5" y="452" width="7" height="46" fill="#eef4f3"/>
<rect x="755.5" y="458" width="3" height="3" fill="#2a8a4a"/><rect x="755.5" y="464" width="3" height="2.5" fill="#2a8a4a"/><rect x="755.5" y="469.5" width="3" height="2.5" fill="#2a8a4a"/>
<rect x="742.6" y="474.5" width="12.2" height="23.5" fill="#2e8c4c"/>
<rect x="745" y="478" width="8" height="16" fill="#8ed07a" opacity="0.6"/>
<rect x="755.5" y="479" width="12.5" height="19" fill="#e6a546"/>
<rect x="770.3" y="469.5" width="14" height="28.5" fill="#ea9fa8"/>
<rect x="772" y="473" width="10" height="20" fill="#f5c8cc" opacity="0.6"/>
<rect x="787" y="481" width="12" height="17" fill="#45a4ac"/>
<circle cx="762" cy="491" r="3.5" fill="#3d8a38"/>
<circle cx="782" cy="492" r="3.5" fill="#3d8a38"/>
<path d="M795 470 l2 11" stroke="#f0f0f0" stroke-width="1"/>
<rect x="811" y="480" width="11.4" height="18" fill="#a8734f"/>
<rect x="813" y="483" width="7" height="12" fill="#e8c888" opacity="0.6"/>
<rect x="825.5" y="462" width="3.5" height="18" fill="#2a4a52"/>
<ellipse cx="829" cy="453" rx="5" ry="7" fill="#7e8c90"/>
<rect x="820" y="471" width="2.5" height="9" fill="#2a4a52"/>
<ellipse cx="821" cy="468" rx="2.5" ry="3.5" fill="#8a969a"/>
<rect x="824.5" y="486" width="10" height="12" fill="#8656a6"/>
<rect x="836" y="478" width="16" height="20" fill="#2c3c6e"/>
<rect x="838" y="481" width="12" height="14" fill="#7a8ac0" opacity="0.5"/>
<rect x="845" y="466" width="2.5" height="12" fill="#2a4a52"/>
<ellipse cx="846" cy="463" rx="4" ry="4" fill="#8a979a"/>
<rect x="853.4" y="485" width="10.6" height="13" fill="#a49566"/>
<defs><pattern id="win" width="3" height="3.2" patternUnits="userSpaceOnUse"><rect x="0.6" y="0.6" width="1.6" height="1.6" fill="#ffffff" opacity="0.45"/></pattern></defs>
<rect x="743.5" y="476" width="10.5" height="20" fill="url(#win)"/>
<rect x="756" y="481" width="11" height="15" fill="url(#win)"/>
<rect x="771" y="472" width="12.5" height="24" fill="url(#win)"/>
<rect x="788" y="483" width="10" height="13" fill="url(#win)"/>
<rect x="812" y="482" width="9.5" height="14" fill="url(#win)"/>
<rect x="837" y="480" width="14" height="16" fill="url(#win)"/>
<rect x="854" y="487" width="9" height="9" fill="url(#win)"/>
<path d="M739 498 H868 L861 510.5 H746 Z" fill="#5e4c4e"/>
<rect x="739" y="497.8" width="66" height="2.2" fill="#4a9a3a"/>
<ellipse cx="777" cy="503.5" rx="6" ry="2.2" fill="#d8a66a"/>
<ellipse cx="795" cy="505.5" rx="5" ry="2" fill="#d88a8a"/>
<ellipse cx="818" cy="503.5" rx="5" ry="2" fill="#d0d0d0"/>
<ellipse cx="845" cy="503.5" rx="7" ry="2.2" fill="#d8b47a"/>
<rect x="731.3" y="511" width="138.4" height="5.8" fill="#c8e2dc"/>
</g>

</svg></body></html>
